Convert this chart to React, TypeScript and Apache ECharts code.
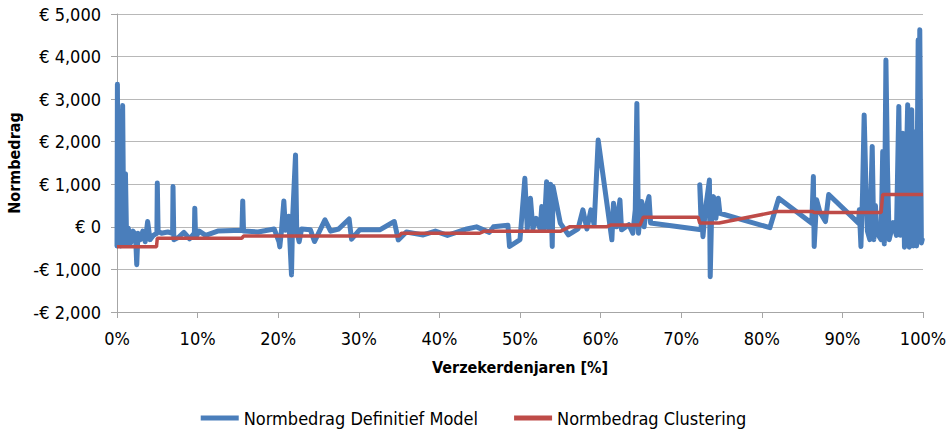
import React, { useEffect, useRef } from "react";
import * as echarts from "echarts";

const xTicks = [0, 10, 20, 30, 40, 50, 60, 70, 80, 90, 100];
const yTicks = [-2000, -1000, 0, 1000, 2000, 3000, 4000, 5000];

const seriesNames = ["Normbedrag Definitief Model", "Normbedrag Clustering"];

// Normbedrag Definitief Model: [verzekerdenjaren %, normbedrag €]
const definitiefModel: [number, number][] = [
  [0.0, -450], [0.05, 3350], [0.15, -420], [0.3, 2700], [0.45, -450], [0.7, 2850], [0.85, -380],
  [1.05, 1250], [1.2, -420], [1.4, -30], [1.7, -380], [2.0, -100], [2.3, -200], [2.45, -890],
  [2.6, -150], [2.9, -300], [3.2, -100], [3.5, -350], [3.8, 125], [4.1, -300], [4.5, -200],
  [4.95, -150], [5.0, 1030], [5.1, -100], [5.5, -150], [6.3, -120], [6.9, -150], [6.95, 950],
  [7.05, -300], [7.6, -250], [8.3, -130], [9.0, -280], [9.6, -150], [9.65, 440], [9.75, -250],
  [10.2, -100], [11.0, -200], [12.5, -100], [15.5, -80], [15.6, 610], [15.7, -100], [17.5, -120],
  [19.5, -50], [20.1, -350], [20.2, -470], [20.4, -100], [20.7, 610], [20.9, -80], [21.3, 250],
  [21.65, -1130], [21.8, 260], [22.15, 1690], [22.3, -100], [22.6, -350], [22.9, -50], [24.0, -70],
  [24.5, -345], [25.8, 164], [26.5, -100], [27.5, -50], [28.8, 185], [29.1, -290], [30.1, -70],
  [32.6, -70], [34.4, 125], [34.9, -305], [35.9, -120], [38.0, -190], [39.5, -100], [41.0, -200],
  [43.4, -50], [44.6, 0], [46.2, -130], [46.7, 0], [48.5, 40], [48.7, -462], [50.0, -300],
  [50.6, 1140], [50.9, -50], [51.3, 670], [51.6, -50], [52.0, 200], [52.5, -50], [52.7, 480],
  [53.0, -50], [53.3, 1060], [53.6, -50], [53.8, 1000], [54.0, -460], [54.1, 950], [55.0, 90],
  [56.0, -190], [57.2, -50], [57.8, 400], [58.3, -50], [58.8, 400], [59.2, 50], [59.7, 2040],
  [61.4, -305], [61.6, 556], [62.0, 0], [62.4, 634], [62.6, -70], [63.5, 50], [64.0, -150],
  [64.3, 400], [64.5, 2900], [64.7, -150], [65.1, 595], [65.4, 0], [65.7, 500], [66.0, 712],
  [66.2, 90], [72.5, -70], [72.3, 990], [72.7, -230], [73.0, 400], [73.5, 1100], [73.6, -1170],
  [73.8, 500], [74.0, 710], [74.3, 200], [74.6, 670], [74.8, 320], [81.0, -20], [82.1, 673],
  [86.2, 87], [86.4, 1182], [86.5, -462], [86.8, 634], [87.2, 350], [87.9, 125], [88.3, 760],
  [92.0, 87], [92.1, 400], [92.3, -462], [92.5, 800], [92.7, 2630], [92.9, 1100], [93.1, -100],
  [93.4, -300], [93.7, 1890], [93.9, -300], [94.1, 500], [94.3, -150], [94.8, -300], [95.0, 1770],
  [95.2, -400], [95.4, 3920], [95.6, 1300], [95.8, -300], [96.3, 100], [96.7, -200], [97.0, 2830],
  [97.2, -200], [97.5, 2200], [97.7, -480], [98.1, 2870], [98.3, -480], [98.6, 2750], [98.8, -450],
  [99.0, 2230], [99.2, -450], [99.4, 4390], [99.5, 400], [99.6, 4630], [99.8, -380], [99.9, -300],
];

// Normbedrag Clustering: step function
const clustering: [number, number][] = [
  [0, -470], [4.9, -470], [5.0, -265], [15.5, -265], [15.7, -215], [35.0, -215], [35.3, -150],
  [45.0, -150], [45.5, -105], [55.0, -105], [56.2, 5], [60.8, 5], [61.3, 45], [64.9, 45],
  [65.3, 228], [72.1, 228], [72.3, 90], [74.7, 90], [81.9, 360], [86.3, 360], [86.5, 335],
  [94.8, 335], [95.0, 760], [100, 760],
];

const FONT = "'DejaVu Sans Condensed', 'Liberation Sans', sans-serif";

function fmtEuro(v: number): string {
  const s = Math.abs(v).toLocaleString("en-US");
  return v < 0 ? "-€ " + s : "€ " + s;
}

export default function App() {
  const ref = useRef<HTMLDivElement>(null);
  useEffect(() => {
    document.body.style.margin = "0";
    if (!ref.current) return;
    const chart = echarts.init(ref.current, undefined, { renderer: "svg" });
    chart.setOption({
      animation: false,
      backgroundColor: "#ffffff",
      textStyle: { fontFamily: FONT },
      grid: { left: 117, right: 24, top: 14, bottom: 120, outerBoundsMode: "none", containLabel: false },
      legend: {
        data: seriesNames,
        top: 404,
        left: "center",
        icon: "rect",
        itemWidth: 38,
        itemHeight: 5,
        itemGap: 36,
        textStyle: { fontFamily: FONT, fontSize: 18, color: "#000" },
      },
      xAxis: {
        type: "value",
        min: xTicks[0],
        max: xTicks[xTicks.length - 1],
        interval: 10,
        name: "Verzekerdenjaren [%]",
        nameLocation: "middle",
        nameGap: 47,
        nameTextStyle: { fontFamily: FONT, fontSize: 16, fontWeight: "bold", color: "#000" },
        axisLine: { onZero: false, lineStyle: { color: "#A6A6A6", width: 1 } },
        axisTick: { show: true, length: 6, lineStyle: { color: "#A6A6A6" } },
        axisLabel: { formatter: "{value}%", fontSize: 18, color: "#000", margin: 17, fontFamily: FONT },
        splitLine: { show: false },
      },
      yAxis: {
        type: "value",
        min: yTicks[0],
        max: yTicks[yTicks.length - 1],
        interval: 1000,
        name: "Normbedrag",
        nameLocation: "middle",
        nameGap: 91,
        nameTextStyle: { fontFamily: FONT, fontSize: 16, fontWeight: "bold", color: "#000" },
        axisLine: { show: true, lineStyle: { color: "#A6A6A6", width: 1 } },
        axisTick: { show: true, length: 6, lineStyle: { color: "#A6A6A6" } },
        axisLabel: { formatter: fmtEuro, fontSize: 18, color: "#000", margin: 16, fontFamily: FONT },
        splitLine: { show: true, lineStyle: { color: "#B8B8B8", width: 1 } },
      },
      series: [
        {
          name: seriesNames[0],
          type: "line",
          data: definitiefModel,
          showSymbol: false,
          symbol: "none",
          lineStyle: { color: "#4A7EBB", width: 5, join: "round", cap: "round" },
          itemStyle: { color: "#4A7EBB" },
          z: 2,
        },
        {
          name: seriesNames[1],
          type: "line",
          data: clustering,
          showSymbol: false,
          symbol: "none",
          lineStyle: { color: "#BE4B48", width: 3.5 },
          itemStyle: { color: "#BE4B48" },
          z: 3,
        },
      ],
    });
    return () => chart.dispose();
  }, []);
  return <div ref={ref} style={{ width: 947, height: 432 }} />;
}
